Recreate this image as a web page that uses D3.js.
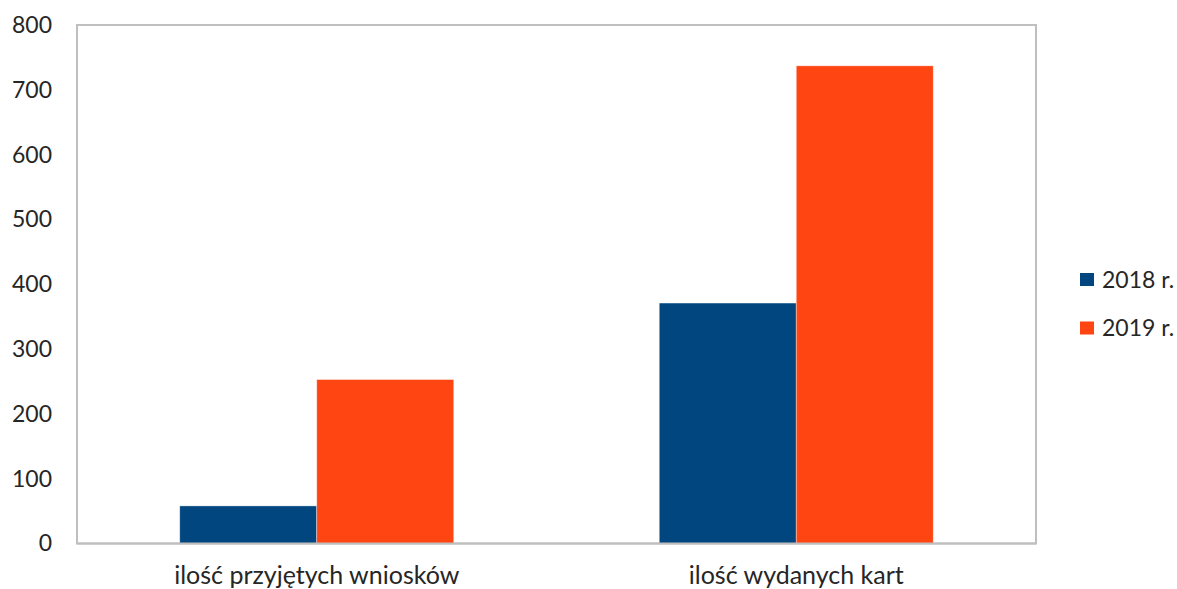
<!DOCTYPE html>
<html>
<head>
<meta charset="utf-8">
<script src="https://cdn.jsdelivr.net/npm/d3@7"></script>
<style>
  html, body { margin: 0; padding: 0; background: #fff; }
  svg { display: block; }
  text { font-family: Lato, "Open Sans", sans-serif; fill: #262626; }
</style>
</head>
<body>
<script>
const categories = ["ilość przyjętych wniosków", "ilość wydanych kart"];
const seriesNames = ["2018 r.", "2019 r."];
const values2018 = [58, 371];
const values2019 = [253, 737];
const yTicks = [0, 100, 200, 300, 400, 500, 600, 700, 800];
const colors = ["#01467F", "#FF4511"];

const W = 1177, H = 589;
const plot = { left: 77, right: 1036, top: 25, bottom: 543.5 };

const svg = d3.select("body").append("svg").attr("width", W).attr("height", H);

const x0 = d3.scaleBand().domain(categories).range([plot.left, plot.right]).paddingInner(0).paddingOuter(0);
const y = d3.scaleLinear().domain([0, 800]).range([plot.bottom, plot.top]);

const groupFrac = 1 / 1.75;
const x1 = d3.scaleBand().domain(seriesNames).range([0, x0.bandwidth() * groupFrac]);

const data = categories.map((c, i) => ({ cat: c, vals: [values2018[i], values2019[i]] }));

// plot frame
svg.append("rect")
  .attr("x", plot.left).attr("y", plot.top)
  .attr("width", plot.right - plot.left).attr("height", plot.bottom - plot.top)
  .attr("fill", "none").attr("stroke", "#BFBFBF").attr("stroke-width", 2);

// bars
const groups = svg.selectAll("g.grp").data(data).join("g")
  .attr("class", "grp")
  .attr("transform", d => `translate(${x0(d.cat) + x0.bandwidth() * (1 - groupFrac) / 2},0)`);

groups.selectAll("rect").data(d => d.vals.map((v, j) => ({ v, s: seriesNames[j], j })))
  .join("rect")
  .attr("x", d => x1(d.s))
  .attr("y", d => y(d.v))
  .attr("width", x1.bandwidth())
  .attr("height", d => y(0) - y(d.v))
  .attr("fill", d => colors[d.j])
  .attr("stroke", "#ffffff").attr("stroke-opacity", 0.5).attr("stroke-width", 0.75);

// redraw bottom axis line on top
svg.append("line")
  .attr("x1", plot.left).attr("x2", plot.right)
  .attr("y1", plot.bottom).attr("y2", plot.bottom)
  .attr("stroke", "#BFBFBF").attr("stroke-width", 2);

// y axis labels
const yAxis = d3.axisLeft(y).tickValues(yTicks).tickSize(0).tickPadding(25);
const ya = svg.append("g").attr("transform", `translate(${plot.left},0)`).call(yAxis);
ya.select(".domain").remove();
ya.selectAll("text").attr("font-size", 23).attr("font-family", "Lato, 'Open Sans', sans-serif").attr("fill", "#262626");

// x axis labels
const xAxis = d3.axisBottom(x0).tickSize(0).tickPadding(23);
const xa = svg.append("g").attr("transform", `translate(0,${plot.bottom})`).call(xAxis);
xa.select(".domain").remove();
xa.selectAll("text").attr("font-size", 25).attr("font-family", "Lato, 'Open Sans', sans-serif").attr("fill", "#262626");

// legend
const legend = svg.append("g").attr("transform", "translate(1080,273)");
const li = legend.selectAll("g").data(seriesNames).join("g")
  .attr("transform", (d, i) => `translate(0,${i * 48.5})`);
li.append("rect").attr("width", 14).attr("height", 13).attr("fill", (d, i) => colors[i]);
li.append("text").attr("x", 22).attr("y", 6.5).attr("dy", "0.35em")
  .attr("font-size", 23).text(d => d);
</script>
</body>
</html>
